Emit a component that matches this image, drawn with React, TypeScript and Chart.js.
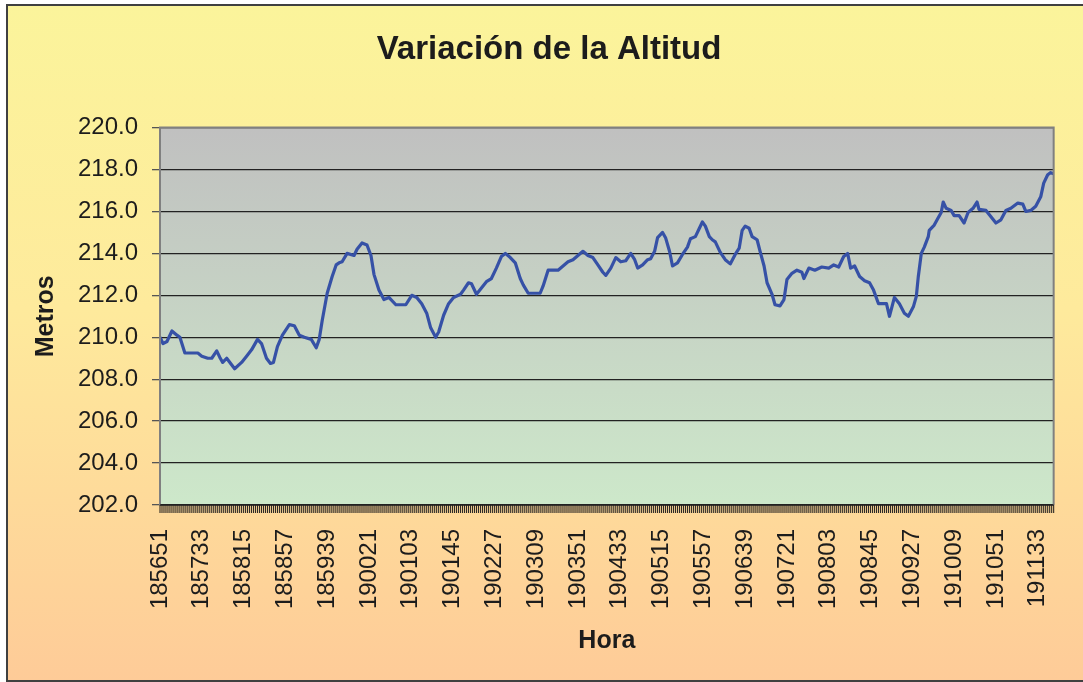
import React, { useEffect, useRef } from "react";
import { Chart, registerables } from "chart.js";

Chart.register(...registerables);

const TITLE = "Variación de la Altitud";
const Y_TITLE = "Metros";
const X_TITLE = "Hora";
const START_TIME = 18 * 3600 + 56 * 60 + 51; // 18:56:51
const X_MAX = 898;
const TICK_STEP = 42;
const Y_MIN = 202;
const Y_MAX = 220;
const Y_STEP = 2;

// seconds elapsed since 18:56:51
const seconds = [
  0, 3, 7, 12, 17, 20, 25, 38, 42, 48, 52, 57, 60, 63, 67, 75, 82, 87, 92, 98,
  102, 107, 111, 114, 118, 123, 130, 135, 140, 145, 152, 157, 160, 163, 168, 173, 177, 180, 183, 188,
  195, 198, 203, 208, 212, 215, 220, 225, 230, 237, 247, 253, 258, 263, 268, 272, 277, 280, 285, 290,
  295, 302, 305, 310, 313, 318, 323, 328, 333, 338, 343, 347, 352, 357, 362, 365, 370, 378, 382, 385,
  390, 395, 400, 405, 410, 415, 420, 425, 430, 435, 440, 445, 448, 453, 458, 463, 468, 473, 477, 480,
  485, 490, 493, 497, 500, 505, 508, 512, 515, 520, 525, 530, 533, 538, 542, 545, 548, 552, 555, 558,
  563, 568, 573, 578, 582, 585, 588, 592, 595, 600, 603, 607, 610, 615, 618, 623, 627, 630, 635, 640,
  645, 647, 652, 658, 665, 672, 677, 682, 687, 691, 694, 698, 703, 708, 713, 717, 722, 730, 733, 738,
  743, 748, 752, 757, 760, 762, 765, 768, 772, 773, 778, 782, 785, 787, 790, 795, 798, 803, 808, 812,
  817, 821, 823, 830, 835, 840, 845, 850, 855, 862, 867, 870, 875, 880, 885, 888, 892, 895, 898,
];

// altitude in metres
const altitude = [
  210.0, 209.7, 209.8, 210.3, 210.1, 210.0, 209.25, 209.25, 209.1, 209.0, 209.0, 209.35, 209.05, 208.8, 209.0, 208.5, 208.8, 209.1, 209.4, 209.9,
  209.7, 209.0, 208.75, 208.8, 209.55, 210.1, 210.6, 210.55, 210.1, 210.0, 209.9, 209.5, 209.9, 210.8, 212.1, 212.9, 213.45, 213.55, 213.6, 214.0,
  213.9, 214.2, 214.5, 214.4, 213.9, 213.0, 212.25, 211.8, 211.9, 211.55, 211.55, 212.0, 211.9, 211.6, 211.15, 210.45, 210.0, 210.25, 211.05, 211.6,
  211.9, 212.05, 212.25, 212.6, 212.55, 212.05, 212.35, 212.65, 212.8, 213.3, 213.85, 214.0, 213.8, 213.55, 212.8, 212.5, 212.1, 212.1, 212.1, 212.45,
  213.2, 213.2, 213.2, 213.4, 213.6, 213.7, 213.9, 214.1, 213.9, 213.8, 213.45, 213.1, 212.95, 213.3, 213.8, 213.6, 213.65, 214.0, 213.7, 213.3,
  213.45, 213.7, 213.75, 214.1, 214.75, 215.0, 214.75, 214.1, 213.4, 213.55, 213.95, 214.3, 214.7, 214.8, 215.2, 215.5, 215.3, 214.8, 214.65, 214.55,
  214.05, 213.7, 213.5, 213.95, 214.25, 215.1, 215.3, 215.2, 214.8, 214.65, 214.1, 213.4, 212.6, 212.05, 211.55, 211.5, 211.8, 212.75, 213.05, 213.2,
  213.1, 212.8, 213.3, 213.2, 213.35, 213.3, 213.45, 213.35, 213.85, 214.0, 213.3, 213.4, 212.9, 212.7, 212.6, 212.25, 211.6, 211.6, 211.0, 211.9,
  211.6, 211.15, 211.0, 211.45, 211.95, 212.9, 214.0, 214.3, 214.8, 215.1, 215.35, 215.7, 215.95, 216.45, 216.15, 216.05, 215.8, 215.8, 215.45, 215.95,
  216.15, 216.45, 216.1, 216.05, 215.75, 215.45, 215.6, 216.05, 216.15, 216.4, 216.35, 216.0, 216.05, 216.25, 216.7, 217.35, 217.75, 217.85, 217.8,
];

const FONT = "'Liberation Sans', Arial, Helvetica, sans-serif";
const TEXT_COLOR = "#1c1c1c";

const pad2 = (n: number) => String(n).padStart(2, "0");
const formatTime = (s: number) => {
  const t = START_TIME + s;
  const hh = Math.floor(t / 3600);
  const mm = Math.floor((t % 3600) / 60);
  const ss = t % 60;
  return `${hh}${pad2(mm)}${pad2(ss)}`;
};

const backgroundPlugin = {
  id: "bgPlugin",
  beforeDraw(chart: any) {
    const { ctx, width, height, chartArea } = chart;
    ctx.save();
    ctx.fillStyle = "#ffffff";
    ctx.fillRect(0, 0, width, height);
    const g = ctx.createLinearGradient(0, 5, 0, 681);
    g.addColorStop(0, "#FBF49B");
    g.addColorStop(0.45, "#FEEA9C");
    g.addColorStop(1, "#FECB98");
    ctx.fillStyle = g;
    ctx.fillRect(7, 5, width, 676);
    ctx.strokeStyle = "#404040";
    ctx.lineWidth = 2;
    ctx.strokeRect(7, 5, width + 10, 676);
    const { left, top, right, bottom } = chartArea;
    const pg = ctx.createLinearGradient(0, top, 0, bottom);
    pg.addColorStop(0, "#C0C0C0");
    pg.addColorStop(1, "#CDE8CA");
    ctx.fillStyle = pg;
    ctx.fillRect(left, top, right - left, bottom - top);
    ctx.restore();
  },
  afterDraw(chart: any) {
    const { ctx, chartArea, scales } = chart;
    const { left, top, right, bottom } = chartArea;
    const xs = scales.x;
    ctx.save();
    ctx.strokeStyle = "#2e2a26";
    ctx.lineWidth = 1.1;
    ctx.beginPath();
    for (let s = 0; s <= X_MAX; s += 2) {
      const px = xs.getPixelForValue(s);
      ctx.moveTo(px, bottom);
      ctx.lineTo(px, bottom + 8);
    }
    ctx.stroke();
    ctx.strokeStyle = "#808080";
    ctx.lineWidth = 2;
    ctx.beginPath();
    ctx.moveTo(left, bottom);
    ctx.lineTo(left, top);
    ctx.lineTo(right, top);
    ctx.lineTo(right, bottom);
    ctx.stroke();
    ctx.strokeStyle = "#222222";
    ctx.lineWidth = 1.5;
    ctx.beginPath();
    ctx.moveTo(left, bottom);
    ctx.lineTo(right, bottom);
    ctx.stroke();
    ctx.restore();
  },
};

export default function App() {
  const canvasRef = useRef<HTMLCanvasElement | null>(null);

  useEffect(() => {
    if (!canvasRef.current) return;
    const points = seconds.map((s, i) => ({ x: s, y: altitude[i] }));
    const chart = new Chart(canvasRef.current, {
      type: "line",
      data: {
        datasets: [
          {
            label: "Altitud",
            data: points,
            borderColor: "#3651A6",
            borderWidth: 3.2,
            pointRadius: 0,
            tension: 0,
            borderJoinStyle: "round",
            fill: false,
          },
        ],
      },
      options: {
        animation: false,
        responsive: false,
        devicePixelRatio: 1,
        layout: { padding: { left: 15, top: 0, right: 0, bottom: 0 } },
        plugins: {
          legend: { display: false },
          tooltip: { enabled: false },
          title: {
            display: true,
            text: TITLE,
            color: TEXT_COLOR,
            font: { family: FONT, size: 33, weight: "bold" },
            padding: { top: 30, bottom: 58 },
          },
        },
        scales: {
          x: {
            type: "linear",
            min: 0,
            max: X_MAX,
            afterFit: (scale: any) => {
              scale.height = 177;
            },
            grid: {
              display: true,
              drawOnChartArea: false,
              drawTicks: true,
              tickLength: 8,
              tickColor: "rgba(0,0,0,0)",
            },
            border: { display: false },
            ticks: {
              stepSize: TICK_STEP,
              autoSkip: false,
              includeBounds: false,
              minRotation: 90,
              maxRotation: 90,
              padding: 16,
              color: TEXT_COLOR,
              font: { family: FONT, size: 24 },
              callback: (v: any) => (Number(v) % TICK_STEP === 0 ? formatTime(Number(v)) : ""),
            },
            title: {
              display: true,
              text: X_TITLE,
              color: TEXT_COLOR,
              font: { family: FONT, size: 25, weight: "bold" },
              padding: { top: 0, bottom: 26 },
            },
          },
          y: {
            min: Y_MIN,
            max: Y_MAX,
            afterFit: (scale: any) => {
              scale.width = 145;
            },
            grid: {
              color: "#222222",
              lineWidth: 1.3,
              drawTicks: true,
              tickLength: 8,
              tickColor: "#555555",
            },
            border: { display: false },
            ticks: {
              stepSize: Y_STEP,
              padding: 14,
              color: TEXT_COLOR,
              font: { family: FONT, size: 24 },
              callback: (v: any) => Number(v).toFixed(1),
            },
            title: {
              display: true,
              text: Y_TITLE,
              color: TEXT_COLOR,
              font: { family: FONT, size: 25, weight: "bold" },
              padding: { top: 16, bottom: 0 },
            },
          },
          yRight: {
            type: "linear",
            position: "right",
            display: true,
            min: Y_MIN,
            max: Y_MAX,
            afterFit: (scale: any) => {
              scale.width = 26;
            },
            grid: { display: false, drawTicks: false },
            border: { display: false },
            ticks: { display: false },
          },
        },
      },
      plugins: [backgroundPlugin],
    });
    return () => chart.destroy();
  }, []);

  return (
    <div style={{ position: "absolute", left: 0, top: 0, width: 1083, height: 682 }}>
      <canvas ref={canvasRef} width={1083} height={682} />
    </div>
  );
}
